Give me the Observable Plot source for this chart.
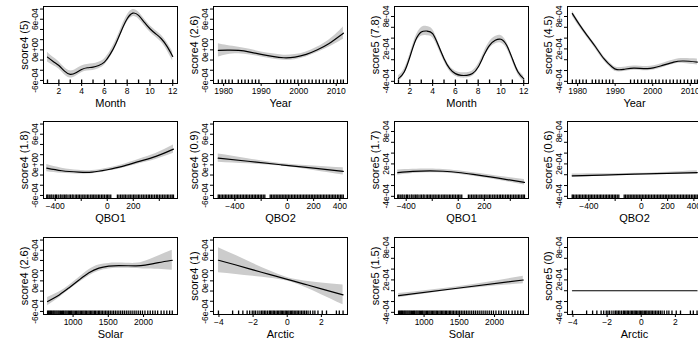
<!DOCTYPE html>
<html><head><meta charset="utf-8">
<script src="https://cdn.jsdelivr.net/npm/d3@7"></script>
<script src="https://cdn.jsdelivr.net/npm/@observablehq/plot@0.6"></script>
<style>
html,body{margin:0;padding:0;background:#fff;overflow:hidden;}
#fig{position:relative;width:698px;height:341px;overflow:hidden;background:#fff;}
#fig svg{position:absolute;}
</style></head><body><div id="fig"></div>
<script>
// ---- data (all smooth values in units of 1e-4) ----
const monthGrid = [1,1.5,2,2.5,3,3.5,4,4.5,5,5.5,6,6.5,7,7.5,8,8.5,9,9.5,10,10.5,11,11.5,12];
const s4MonthFit = [-1.43,-2.27,-3.06,-4.18,-4.82,-4.49,-3.84,-3.51,-3.39,-3.06,-2.41,-0.9,1.2,3.8,6.1,7.2,6.75,5.43,4.14,3.16,2.18,0.67,-1.29];
const s4MonthSe  = [0.95,0.8,0.72,0.7,0.7,0.68,0.66,0.65,0.65,0.63,0.6,0.6,0.62,0.65,0.68,0.7,0.68,0.65,0.63,0.65,0.7,0.78,0.92];
const s5MonthFit = [-3.5,-2.28,0.5,3.59,5.13,5.31,4.83,2.67,0.2,-1.65,-2.57,-2.89,-2.89,-2.57,-1.35,0.81,2.67,3.59,3.78,2.67,0.2,-2.28,-3.5];
const s5MonthSe  = [0.55,0.5,0.5,0.6,0.8,0.85,0.75,0.6,0.5,0.5,0.5,0.5,0.5,0.5,0.5,0.55,0.65,0.7,0.7,0.6,0.5,0.5,0.55];
const monthRug = [1,2,3,4,5,6,7,8,9,10,11,12];

const yearGrid4 = [1978.6,1981,1984,1987,1990,1993,1996,1999,2002,2005,2008,2011,2011.9];
const s4YearFit = [-0.12,-0.06,-0.12,-0.45,-0.9,-1.29,-1.55,-1.43,-0.9,0.02,1.2,2.76,3.27];
const s4YearSe  = [1.3,0.9,0.65,0.55,0.5,0.5,0.5,0.5,0.5,0.55,0.7,1.05,1.25];
const yearGrid5 = [1978.6,1980.3,1982.5,1984.8,1987,1989.2,1990.5,1992.3,1995,1998.6,2002.1,2005.6,2008.3,2011.9];
const s5YearFit = [8.54,6.69,4.52,2.35,0.2,-1.35,-1.83,-1.78,-1.54,-1.65,-1.17,-0.43,-0.24,-0.43];
const s5YearSe  = [0.5,0.45,0.4,0.4,0.4,0.4,0.4,0.4,0.4,0.4,0.4,0.4,0.45,0.55];
const yearRug = [1978.6,1979.6,1980.5,1981.4,1982.3,1983.9,1984.8,1985.7,1986.6,1987.6,1988.5,1989.4,1994.1,1995.1,1996.0,1997.0,1997.9,1998.9,1999.8,2000.8,2001.7,2002.7,2003.6,2004.6,2005.5,2006.5,2007.4,2008.4,2009.3,2010.3,2011.2,2011.9];

const qbo1Grid = [-465,-349,-219,-116,0,116,246,374,509];
const s4Qbo1Fit = [-0.65,-1.16,-1.43,-1.43,-0.96,-0.31,0.67,1.65,3.08];
const s4Qbo1Se  = [0.7,0.5,0.38,0.32,0.3,0.35,0.45,0.58,0.8];
const s5Qbo1Fit = [0.38,0.62,0.72,0.64,0.41,0.05,-0.4,-0.89,-1.4];
const s5Qbo1Se  = [0.5,0.4,0.35,0.33,0.32,0.33,0.36,0.42,0.52];
const qbo1Rug = [-465,-457,-446,-433,-425,-411,-398,-390,-377,-362,-355,-341,-330,-318,-309,-294,-283,-270,-262,-247,-236,-224,-213,-201,-188,-177,-164,-152,-141,-127,-116,-104,-93,-80,-68,-57,-44,-33,-21,-8,3,14,27,78,90,103,115,128,139,152,166,177,190,203,214,228,240,251,265,277,290,302,315,326,339,351,364,377,388,401,413,426,438,451,463,474,488,499,509];

const qbo2Grid = [-527,-300,-50,200,426];
const s4Qbo2Fit = [1.31,0.7,0.02,-0.66,-1.29];
const s4Qbo2Se  = [0.8,0.5,0.25,0.45,0.72];
const s5Qbo2Fit = [-0.2,-0.06,0.1,0.26,0.4];
const s5Qbo2Se  = [0.32,0.22,0.16,0.22,0.32];
const qbo2Rug = [-527,-518,-506,-495,-483,-472,-461,-449,-437,-426,-415,-402,-391,-380,-369,-357,-345,-334,-322,-311,-300,-288,-276,-265,-253,-242,-230,-219,-207,-196,-184,-172,-131,-120,-108,-96,-85,-73,-62,-50,-39,-27,-16,-4,7,19,31,42,54,65,77,89,100,112,124,135,147,158,170,182,193,205,217,228,240,251,263,275,286,298,310,321,333,345,356,368,381,392,404,415,426];

const solarGrid = [638,803,944,1085,1225,1366,1507,1648,1882,2023,2211,2408];
const s4SolarFit = [-4.06,-2.76,-1.34,0.16,1.57,2.49,2.87,2.99,2.93,3.07,3.57,4.04];
const s4SolarSe  = [0.8,0.55,0.45,0.5,0.6,0.6,0.55,0.5,0.5,0.75,1.3,1.95];
const solarGrid5 = [638,1500,2408];
const s5SolarFit = [-0.91,0.5,1.98];
const s5SolarSe  = [0.4,0.28,0.68];
const solarRug = [638,652,668,681,695,712,726,741,757,772,788,803,820,836,851,866,884,899,915,932,948,965,980,998,1015,1033,1050,1068,1084,1102,1120,1138,1155,1173,1190,1210,1228,1246,1265,1283,1302,1320,1340,1360,1378,1398,1418,1440,1462,1483,1505,1528,1552,1575,1600,1625,1650,1676,1702,1728,1755,1782,1810,1838,1867,1895,1925,1955,1985,2020,2060,2095,2130,2165,2200,2250,2290,2330,2370,2408];

const arcticGrid = [-4.03,-3,-2,-1,0,1,2,3.27];
const s4ArcticFit = [4.04,3.1,2.15,1.22,0.3,-0.63,-1.57,-2.76];
const s4ArcticSe  = [2.45,1.85,1.25,0.7,0.35,0.6,1.15,1.94];
const s5ArcticFit = [0,0,0,0,0,0,0,0];
const s5ArcticSe  = [0,0,0,0,0,0,0,0];
const arcticRug = [-4.03,-3.2,-2.85,-2.6,-2.35,-2.2,-2.05,-1.95,-1.85,-1.72,-1.6,-1.5,-1.42,-1.33,-1.25,-1.15,-1.05,-0.98,-0.9,-0.82,-0.75,-0.66,-0.58,-0.5,-0.42,-0.35,-0.28,-0.2,-0.12,-0.05,0.03,0.1,0.18,0.26,0.33,0.41,0.5,0.58,0.66,0.75,0.84,0.93,1.02,1.12,1.22,1.35,1.5,1.62,1.8,2.05,2.3,2.88,3.05,3.27];

// tick values / labels
const monthTicks = [2,4,6,8,10,12], monthLabels = [2,4,6,8,10,12];
const yearTicks = [1980,1990,2000,2010], yearLabels = [1980,1990,2000,2010];
const qboTicks = [-400,-200,0,200,400], qbo1Labels = [-400,0,200], qbo2Labels = [-400,0,200,400];
const solarTicks = [1000,1500,2000], solarLabels = [1000,1500,2000];
const arcticTicks = [-4,-2,0,2], arcticLabels = [-4,-2,0,2];
const s4Ticks = [-6,-4,-2,0,2,4,6,8], s4Labels = [-6,0,6];
const s5Ticks = [-4,-2,0,2,4,6,8], s5Labels = [-4,2,8];

const titles = [
  ["score4 (5)","score4 (2.6)","score5 (7.8)","score5 (4.5)"],
  ["score4 (1.8)","score4 (0.9)","score5 (1.7)","score5 (0.6)"],
  ["score4 (2.6)","score4 (1)","score5 (1.5)","score5 (0)"]
];
const xNames = [["Month","Year","Month","Year"],["QBO1","QBO2","QBO1","QBO2"],["Solar","Arctic","Solar","Arctic"]];

// ---- layout ----
const BW = 134, BH = 77, ML = 43, MR = 5, MT = 6, MB = 32;
const colLeft = [43, 213, 394, 567];
const rowTop = [6, 121, 237];
const FONT = '"Liberation Sans", Arial, Helvetica, sans-serif';
const minus = s => s.replace(/-/g, "\u2212");
const eLabel = v => v === 0 ? "0e+00" : (v + "e-04");

const Y4 = {domain: [-6.6, 8.5], ticks: s4Ticks, labels: s4Labels};
const Y5 = {domain: [-4.4, 9.85], ticks: s5Ticks, labels: s5Labels};
const X = {
  month: {domain: [0.65, 12.42], ticks: monthTicks, labels: monthLabels, rug: monthRug},
  year: {domain: [1977.3, 2013.0], ticks: yearTicks, labels: yearLabels, rug: yearRug},
  qbo1: {domain: [-490, 540], ticks: qboTicks, labels: qbo1Labels, rug: qbo1Rug},
  qbo2: {domain: [-563, 458], ticks: qboTicks, labels: qbo2Labels, rug: qbo2Rug},
  solar: {domain: [580, 2482], ticks: solarTicks, labels: solarLabels, rug: solarRug},
  arctic: {domain: [-4.32, 3.53], ticks: arcticTicks, labels: arcticLabels, rug: arcticRug}
};

const panels = [
  {r:0,c:0,x:X.month,y:Y4,grid:monthGrid,fit:s4MonthFit,se:s4MonthSe,curve:"natural"},
  {r:0,c:1,x:X.year,y:Y4,grid:yearGrid4,fit:s4YearFit,se:s4YearSe,curve:"natural"},
  {r:0,c:2,x:X.month,y:Y5,grid:monthGrid,fit:s5MonthFit,se:s5MonthSe,curve:"natural"},
  {r:0,c:3,x:X.year,y:Y5,grid:yearGrid5,fit:s5YearFit,se:s5YearSe,curve:"natural"},
  {r:1,c:0,x:X.qbo1,y:Y4,grid:qbo1Grid,fit:s4Qbo1Fit,se:s4Qbo1Se,curve:"natural"},
  {r:1,c:1,x:X.qbo2,y:Y4,grid:qbo2Grid,fit:s4Qbo2Fit,se:s4Qbo2Se,curve:"natural"},
  {r:1,c:2,x:X.qbo1,y:Y5,grid:qbo1Grid,fit:s5Qbo1Fit,se:s5Qbo1Se,curve:"natural"},
  {r:1,c:3,x:X.qbo2,y:Y5,grid:qbo2Grid,fit:s5Qbo2Fit,se:s5Qbo2Se,curve:"natural"},
  {r:2,c:0,x:X.solar,y:Y4,grid:solarGrid,fit:s4SolarFit,se:s4SolarSe,curve:"natural"},
  {r:2,c:1,x:X.arctic,y:Y4,grid:arcticGrid,fit:s4ArcticFit,se:s4ArcticSe,curve:"natural"},
  {r:2,c:2,x:X.solar,y:Y5,grid:solarGrid5,fit:s5SolarFit,se:s5SolarSe,curve:"natural"},
  {r:2,c:3,x:X.arctic,y:Y5,grid:arcticGrid,fit:s5ArcticFit,se:s5ArcticSe,curve:"linear"}
];

const fig = document.getElementById("fig");
for (const p of panels) {
  const data = p.grid.map((g, i) => ({g, fit: p.fit[i], lo: p.fit[i] - p.se[i], hi: p.fit[i] + p.se[i]}));
  const svg = Plot.plot({
    width: BW + ML + MR, height: BH + MT + MB,
    marginLeft: ML, marginRight: MR, marginTop: MT, marginBottom: MB,
    style: {background: "transparent", overflow: "visible", fontFamily: FONT, color: "black"},
    x: {domain: p.x.domain},
    y: {domain: p.y.domain},
    marks: [
      Plot.areaY(data, {x: "g", y1: "lo", y2: "hi", fill: "#cccccc", curve: p.curve, clip: true}),
      Plot.ruleX(p.x.rug, {stroke: "black", strokeWidth: 1.3, insetTop: BH - 3.5}),
      Plot.lineY(data, {x: "g", y: "fit", stroke: "black", strokeWidth: 1.2, curve: p.curve, clip: true}),
      Plot.frame({stroke: "black", strokeWidth: 1}),
      Plot.axisX({ticks: p.x.ticks, tickFormat: d => p.x.labels.includes(d) ? minus(String(d)) : "",
        tickSize: 3, tickPadding: 1, fontSize: 8.5, label: null, fill: "black"}),
      Plot.axisY({ticks: p.y.ticks, tickFormat: d => p.y.labels.includes(d) ? eLabel(d) : "",
        tickSize: 3, tickPadding: 3, tickRotate: -90, fontSize: 8.5, label: null, fill: "black"}),
      Plot.text([titles[p.r][p.c]], {text: d => d, frameAnchor: "left", rotate: -90, dx: -23,
        lineAnchor: "top", textAnchor: "middle", fontSize: 11, fill: "black"}),
      Plot.text([xNames[p.r][p.c]], {text: d => d, frameAnchor: "bottom", dy: 16,
        lineAnchor: "top", textAnchor: "middle", fontSize: 11, fill: "black"})
    ]
  });
  svg.style.left = (colLeft[p.c] - ML) + "px";
  svg.style.top = (rowTop[p.r] - MT) + "px";
  fig.appendChild(svg);
}
</script></body></html>
